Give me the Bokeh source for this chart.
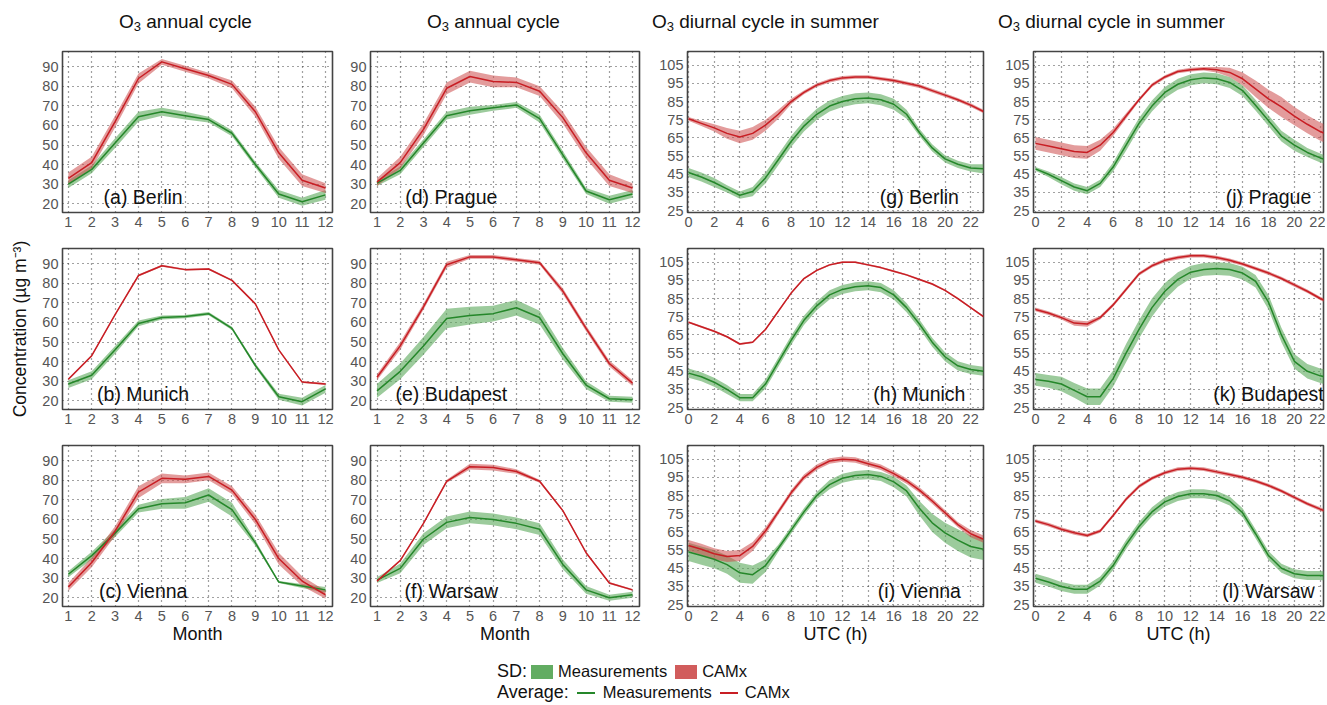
from bokeh.plotting import figure
from bokeh.layouts import gridplot, column
from bokeh.models import Div, Label, FixedTicker, Range1d
from bokeh.embed import file_html
from bokeh.resources import INLINE

# ---------------- data ----------------
months = [1, 2, 3, 4, 5, 6, 7, 8, 9, 10, 11, 12]
hours = list(range(24))

annual_xticks = [1, 2, 3, 4, 5, 6, 7, 8, 9, 10, 11, 12]
annual_yticks = [20, 30, 40, 50, 60, 70, 80, 90]
diurnal_xticks = [0, 2, 4, 6, 8, 10, 12, 14, 16, 18, 20, 22]
diurnal_yticks = [25, 35, 45, 55, 65, 75, 85, 95, 105]

title_texts = ["annual cycle", "annual cycle",
               "diurnal cycle in summer", "diurnal cycle in summer"]

# annual cycle: Measurements / CAMx mean and SD
berlin_year_meas = [30, 37.5, 51, 64.5, 67, 65, 63, 56, 40, 25, 21, 24.5]
berlin_year_meas_sd = [2, 2, 2.5, 2.5, 2, 2, 1.5, 1.5, 1.5, 2, 2, 2.5]
berlin_year_camx = [33, 41, 62, 84, 92.5, 89, 85.5, 81, 67, 46, 32, 28]
berlin_year_camx_sd = [3, 3, 3, 2.5, 1.5, 1.5, 1.5, 2, 2.5, 3, 3, 2.5]

munich_year_meas = [28.5, 33, 46, 59.5, 62.5, 63, 64.5, 57, 38, 22, 19.5, 26]
munich_year_meas_sd = [2, 2, 2, 1.5, 1, 0.8, 0.8, 0.8, 1, 1.5, 2, 2]
munich_year_camx = [31, 43, 64, 84, 89, 87, 87.3, 81.5, 69.5, 46, 29.5, 28.5]
munich_year_camx_sd = [0.5, 0.5, 0.5, 0.5, 0.5, 0.5, 0.5, 0.5, 0.5, 0.5, 0.5, 0.5]

vienna_year_meas = [32, 41.5, 53, 65.5, 68, 68.5, 72.5, 65, 48, 28, 26, 24]
vienna_year_meas_sd = [1.5, 2, 2, 2, 2.5, 3, 3.5, 3.5, 1.5, 0.5, 1, 1.5]
vienna_year_camx = [25.5, 38, 54, 74, 81, 80.5, 82, 75, 60, 40, 28.5, 21.5]
vienna_year_camx_sd = [2, 2.5, 2.5, 3, 2.5, 2, 2, 2, 2.5, 3, 2.5, 2]

prague_year_meas = [30.5, 37, 51, 65, 67.5, 69, 70.5, 63.5, 45, 26.5, 22, 25]
prague_year_meas_sd = [1.5, 2, 2, 2, 2, 1.5, 1.5, 2, 2, 1.5, 2, 2]
prague_year_camx = [31, 41, 58, 79, 85, 82.5, 82, 77.5, 64, 46, 32, 28]
prague_year_camx_sd = [2, 3, 3, 3, 3, 3, 2.5, 2.5, 3, 3, 3, 2.5]

budapest_year_meas = [25, 35, 48, 62, 63.5, 64.5, 67.5, 62.5, 44, 28, 21, 20.5]
budapest_year_meas_sd = [3.5, 4, 4.5, 5, 4.5, 4, 4, 3.5, 3, 2, 1.5, 1.5]
budapest_year_camx = [32, 48, 68, 89.5, 93.5, 93.5, 92, 90.5, 76, 57, 39, 29]
budapest_year_camx_sd = [1.5, 2, 1.5, 1.5, 1, 1, 1, 1, 1.5, 1.5, 1.5, 1.5]

warsaw_year_meas = [29, 35, 50, 58.5, 61, 60, 58, 55, 37, 24, 20, 21.5]
warsaw_year_meas_sd = [1.5, 2.5, 3, 3, 3, 3, 3, 3, 2.5, 2, 1.5, 1.5]
warsaw_year_camx = [28.5, 39, 58, 79.5, 87, 86.5, 84.5, 79.5, 64.5, 43, 27.5, 24]
warsaw_year_camx_sd = [0.5, 0.5, 0.5, 0.8, 1.5, 1.5, 1.2, 0.8, 0.5, 0.5, 0.5, 0.5]

# diurnal cycle in summer
berlin_day_meas = [46, 43.5, 40.5, 37, 33.5, 35.5, 43, 53, 63, 71.5, 78, 82.5,
                   85, 86.5, 87, 86, 83.5, 78, 68, 59.5, 53.5, 50.5, 48.5, 48]
berlin_day_meas_sd = [2.5, 2.5, 2.5, 2, 2, 2.5, 3, 3, 3, 3, 3, 3,
                      3, 3, 3, 3, 3, 2.5, 2, 2, 2, 2, 2, 2.5]
berlin_day_camx = [75.5, 73, 70.5, 67.5, 65.5, 67.5, 72, 78, 85, 90, 94, 96.5,
                   98, 98.5, 98.5, 97.5, 96.5, 95, 93.5, 91, 88.5, 86, 83, 79.5]
berlin_day_camx_sd = [1, 1.5, 2, 3, 3.5, 3.5, 3, 2.5, 1.5, 1, 1, 1,
                      1, 1, 1, 1, 1, 1, 1, 1, 1, 1, 1, 1]

munich_day_meas = [44, 42, 39, 35, 30.5, 30.5, 38, 50, 62, 73, 81, 87,
                   90, 91.5, 92, 91, 87, 80, 71, 61, 53, 48, 46, 45]
munich_day_meas_sd = [2.5, 2.5, 2.5, 2.5, 2, 2, 2.5, 2.5, 2.5, 2.5, 2.5, 2.5,
                      2.5, 2.5, 2.5, 2.5, 2.5, 2.5, 2.5, 2.5, 2.5, 2.5, 2.5, 2.5]
munich_day_camx = [72, 69.5, 67, 64, 60, 61, 68, 78, 88, 96, 100.5, 103.5,
                   105, 105, 103.5, 102, 100, 98, 95.5, 93, 89.5, 85, 80, 75]
munich_day_camx_sd = [0.5, 0.5, 0.5, 0.5, 0.5, 0.5, 0.5, 0.5, 0.5, 0.5, 0.5, 0.5,
                      0.5, 0.5, 0.5, 0.5, 0.5, 0.5, 0.5, 0.5, 0.5, 0.5, 0.5, 0.5]

vienna_day_meas = [54, 52, 50, 47, 42.5, 41.5, 46.5, 56, 66, 76, 85, 91,
                   94.5, 96, 96.5, 95.5, 92.5, 87.5, 78, 70, 64.5, 60.5, 57, 55.5]
vienna_day_meas_sd = [5, 5, 5, 5, 5.5, 5, 3.5, 2, 2, 2, 2, 2.5,
                      2.5, 2.5, 2.5, 2.5, 3, 3, 4, 5, 5.5, 6, 6, 6]
vienna_day_camx = [57.5, 55.5, 53, 51.5, 52, 57, 65.5, 76, 86.5, 95, 100.5, 104,
                   105, 104.5, 102.5, 100.5, 97, 93, 88, 82, 75.5, 69, 64, 61]
vienna_day_camx_sd = [3, 3, 3, 3, 3, 2.5, 2, 1.5, 1.5, 1.5, 1.5, 1.5,
                      1.5, 1.5, 1.5, 1.5, 1.5, 1.5, 1.5, 1.5, 1.5, 1.5, 2, 2]

prague_day_meas = [48, 45, 41.5, 38, 36, 40, 49, 61, 73, 82.5, 90, 94.5,
                   97, 98, 97.5, 95.5, 91, 83, 74.5, 66, 61, 57, 54, 51.5]
prague_day_meas_sd = [1, 1.5, 2, 2, 2, 2, 2.5, 3, 3, 3, 3, 3,
                      3, 3, 3, 3, 3, 3, 3, 3, 3, 2.5, 2.5, 2]
prague_day_camx = [62, 60.5, 59, 57.5, 57, 61, 68, 77, 86, 94, 98.5, 101.5,
                   102.5, 103, 102.5, 101, 97.5, 92, 86.5, 82, 77, 72.5, 68.5, 65.5]
prague_day_camx_sd = [3.5, 3.5, 3.5, 3.5, 3.5, 3, 2, 1.5, 1, 1, 1, 1,
                      1, 1, 1.5, 2.5, 3.5, 4.5, 5, 5.5, 5, 5, 5, 5]

budapest_day_meas = [40.5, 39.5, 38, 34.5, 31, 31, 41, 55, 68, 80, 89, 95.5,
                     99.5, 101, 101.5, 101, 99, 94.5, 83, 65, 50.5, 45, 42.5, 41]
budapest_day_meas_sd = [3.5, 3.5, 4, 4, 4.5, 4.5, 4.5, 5, 5, 5, 4.5, 4,
                        3.5, 3.5, 3.5, 3.5, 3.5, 3.5, 4, 4, 4, 4, 4, 4]
budapest_day_camx = [79, 77, 74.5, 71.5, 71, 74.5, 81.5, 90, 98.5, 103, 106, 107.5,
                     108.5, 108.5, 107.5, 106, 104, 101.5, 99, 96, 92.5, 89, 85, 82]
budapest_day_camx_sd = [1, 1, 1, 1.5, 1.5, 1, 1, 1, 1, 1, 1, 1,
                        1, 1, 1, 1, 1, 1, 1, 1, 1, 1, 1, 1]

warsaw_day_meas = [39.5, 37.5, 35, 33.5, 33.5, 38, 46.5, 58, 68, 76, 81.5, 84.5,
                   86, 86, 85, 82, 75.5, 64, 52, 45, 42, 41, 41, 40.5]
warsaw_day_meas_sd = [2.5, 2.5, 2.5, 2.5, 2.5, 2.5, 2.5, 2.5, 2.5, 2.5, 2.5, 2.5,
                      2.5, 2.5, 2.5, 2.5, 2.5, 2.5, 2.5, 2.5, 2.5, 2.5, 2.5, 2.5]
warsaw_day_camx = [71, 69, 66.5, 64.5, 63, 65.5, 74, 83, 90, 94.5, 97.5, 99.5,
                   100, 99.5, 98, 96.5, 95, 93, 90.5, 87.5, 84, 80.5, 77.5, 75]
warsaw_day_camx_sd = [1, 1, 1, 1, 1, 1, 1, 1, 1, 1, 1, 1,
                      1, 1, 1, 1, 1, 1, 1, 1, 1, 1, 1, 1]

# ---------------- style ----------------
FONT = "Liberation Sans"
MEAS_BAND = "#5aa85a"
CAMX_BAND = "#cc4a4a"
MEAS_LINE = "#25872a"
CAMX_LINE = "#c81e24"

FRAME_H = 161
col_frame_w = [270, 269, 296, 290]
col_left = [62, 32, 42, 42]
col_right = [6, 6, 8, 2]
row_top = [11, 14, 6]
row_bottom = [22, 30, 42]
title_left = [119, 427, 652, 998]
col_xrange = [(0.75, 12.3), (0.72, 12.3), (-0.08, 23.0), (-0.15, 22.25)]


def make_panel(row, col, x, meas, meas_sd, camx, camx_sd, label):
    annual = col < 2
    if annual:
        yr = Range1d(15.5, 97.8)
        xt, yt = annual_xticks, annual_yticks
        lx, ly = 4.2, 23.2
    else:
        yr = Range1d(24, 112.5)
        xt, yt = diurnal_xticks, diurnal_yticks
        lx, ly = 18.0, 32.7
    xr = Range1d(*col_xrange[col])
    p = figure(frame_width=col_frame_w[col], frame_height=FRAME_H,
               x_range=xr, y_range=yr, output_backend="svg",
               toolbar_location=None,
               min_border_left=col_left[col], min_border_right=col_right[col],
               min_border_top=row_top[row], min_border_bottom=row_bottom[row])
    p.background_fill_color = "white"
    p.border_fill_color = "white"
    p.outline_line_color = "#444444"
    p.outline_line_width = 1.6

    lo_m = [m - s for m, s in zip(meas, meas_sd)]
    hi_m = [m + s for m, s in zip(meas, meas_sd)]
    lo_c = [m - s for m, s in zip(camx, camx_sd)]
    hi_c = [m + s for m, s in zip(camx, camx_sd)]
    p.varea(x=x, y1=lo_m, y2=hi_m, fill_color=MEAS_BAND, fill_alpha=0.6)
    p.varea(x=x, y1=lo_c, y2=hi_c, fill_color=CAMX_BAND, fill_alpha=0.55)
    p.line(x, meas, line_color=MEAS_LINE, line_width=1.5)
    p.line(x, camx, line_color=CAMX_LINE, line_width=1.5)

    p.xaxis.ticker = FixedTicker(ticks=xt)
    p.yaxis.ticker = FixedTicker(ticks=yt)
    for g in (p.xgrid, p.ygrid):
        g.grid_line_color = "#222222"
        g.grid_line_dash = "1 4"
        g.grid_line_width = 1.2
        g.grid_line_alpha = 0.85
    p.xgrid.ticker = FixedTicker(ticks=xt)
    p.ygrid.ticker = FixedTicker(ticks=yt)

    for ax in p.axis:
        ax.axis_line_color = None
        ax.major_tick_line_color = None
        ax.minor_tick_line_color = None
        ax.major_tick_out = 0
        ax.major_tick_in = 0
        ax.major_label_text_font = FONT
        ax.major_label_text_font_size = "14.5px"
        ax.major_label_text_color = "#555555"
        ax.major_label_standoff = 4
        ax.axis_label_text_font = FONT
        ax.axis_label_text_font_size = "18px"
        ax.axis_label_text_font_style = "normal"
        ax.axis_label_text_color = "#111111"

    if row == 2:
        p.xaxis.axis_label = "Month" if annual else "UTC (h)"
        p.xaxis.axis_label_standoff = 0
    if row == 1 and col == 0:
        p.yaxis.axis_label = "Concentration (\u00b5g m\u207b\u00b3)"
        p.yaxis.axis_label_standoff = 9
        p.yaxis.axis_label_text_font_size = "17.5px"

    p.add_layout(Label(x=lx, y=ly, text=label, text_align="center",
                       text_baseline="middle", text_font=FONT,
                       text_font_size="19.5px", text_color="#111111"))
    return p


panels = [
    [(months, berlin_year_meas, berlin_year_meas_sd, berlin_year_camx, berlin_year_camx_sd, "(a) Berlin"),
     (months, prague_year_meas, prague_year_meas_sd, prague_year_camx, prague_year_camx_sd, "(d) Prague"),
     (hours, berlin_day_meas, berlin_day_meas_sd, berlin_day_camx, berlin_day_camx_sd, "(g) Berlin"),
     (hours, prague_day_meas, prague_day_meas_sd, prague_day_camx, prague_day_camx_sd, "(j) Prague")],
    [(months, munich_year_meas, munich_year_meas_sd, munich_year_camx, munich_year_camx_sd, "(b) Munich"),
     (months, budapest_year_meas, budapest_year_meas_sd, budapest_year_camx, budapest_year_camx_sd, "(e) Budapest"),
     (hours, munich_day_meas, munich_day_meas_sd, munich_day_camx, munich_day_camx_sd, "(h) Munich"),
     (hours, budapest_day_meas, budapest_day_meas_sd, budapest_day_camx, budapest_day_camx_sd, "(k) Budapest")],
    [(months, vienna_year_meas, vienna_year_meas_sd, vienna_year_camx, vienna_year_camx_sd, "(c) Vienna"),
     (months, warsaw_year_meas, warsaw_year_meas_sd, warsaw_year_camx, warsaw_year_camx_sd, "(f) Warsaw"),
     (hours, vienna_day_meas, vienna_day_meas_sd, vienna_day_camx, vienna_day_camx_sd, "(i) Vienna"),
     (hours, warsaw_day_meas, warsaw_day_meas_sd, warsaw_day_camx, warsaw_day_camx_sd, "(l) Warsaw")],
]

grid_children = []
for r, row_specs in enumerate(panels):
    grid_children.append([make_panel(r, c, *spec) for c, spec in enumerate(row_specs)])

grid = gridplot(grid_children, toolbar_location=None)

title_spans = "".join(
    f'<span style="position:absolute;left:{lft}px;top:10px;line-height:24px;white-space:nowrap;">'
    f'O<sub style="font-size:13px;vertical-align:-3px;line-height:0;">3</sub> {txt}</span>'
    for lft, txt in zip(title_left, title_texts))
title_html = (f'<div style="position:relative;width:1325px;height:40px;'
              f'font-family:\'{FONT}\',Arial,sans-serif;font-size:19px;color:#111;">'
              f'{title_spans}</div>')
titles_div = Div(text=title_html, width=1325, height=40, margin=0)

legend_html = f"""
<div style="font-family:'{FONT}',Arial,sans-serif;color:#111;width:1300px;">
 <div style="margin-left:497px;margin-top:13px;height:21px;display:flex;align-items:center;white-space:nowrap;">
  <span style="font-size:18px;">SD:</span>
  <span style="display:inline-block;width:22px;height:14px;background:{MEAS_BAND};opacity:0.95;margin:0 5px 0 4px;"></span>
  <span style="font-size:16.5px;">Measurements</span>
  <span style="display:inline-block;width:22px;height:14px;background:{CAMX_BAND};opacity:0.9;margin:0 5px 0 8px;"></span>
  <span style="font-size:16.5px;">CAMx</span>
 </div>
 <div style="margin-left:497px;height:21px;display:flex;align-items:center;white-space:nowrap;">
  <span style="font-size:18px;">Average:</span>
  <span style="display:inline-block;width:18px;height:2px;background:{MEAS_LINE};margin:0 8px 0 8px;"></span>
  <span style="font-size:16.5px;">Measurements</span>
  <span style="display:inline-block;width:18px;height:2px;background:{CAMX_LINE};margin:0 7px 0 8px;"></span>
  <span style="font-size:16.5px;">CAMx</span>
 </div>
</div>
"""
legend = Div(text=legend_html, width=1300, height=55, margin=0)

layout = column(titles_div, grid, legend)
open("out.html", "w").write(file_html(layout, INLINE))
